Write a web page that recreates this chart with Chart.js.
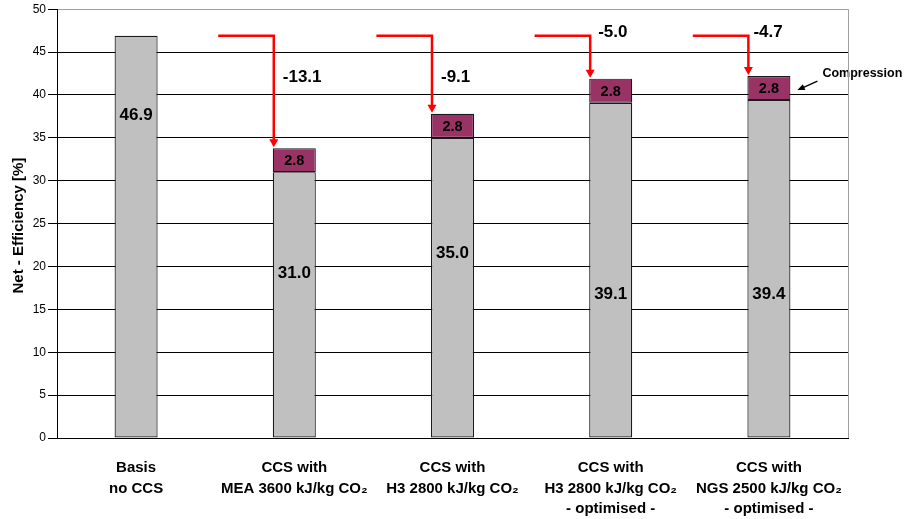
<!DOCTYPE html>
<html>
<head>
<meta charset="utf-8">
<script src="https://cdn.jsdelivr.net/npm/chart.js@4.4.0/dist/chart.umd.min.js"></script>
<style>
html,body{margin:0;padding:0;background:#fff;}
#wrap{width:906px;height:519px;}
</style>
</head>
<body>
<div id="wrap"><canvas id="c" width="906" height="519"></canvas></div>
<script>
const categories = [
  ['Basis', 'no CCS'],
  ['CCS with', 'MEA 3600 kJ/kg CO\u2082'],
  ['CCS with', 'H3 2800 kJ/kg CO\u2082'],
  ['CCS with', 'H3 2800 kJ/kg CO\u2082', '- optimised -'],
  ['CCS with', 'NGS 2500 kJ/kg CO\u2082', '- optimised -']
];
const netEfficiency = [46.9, 31.0, 35.0, 39.1, 39.4];
const compression = [null, 2.8, 2.8, 2.8, 2.8];
const yTickMin = 0, yTickMax = 50, yTickStep = 5;
const axisTitle = 'Net - Efficiency [%]';
const noteText = 'Compression';

const FONT = 'Arial, "Liberation Sans", Helvetica, sans-serif';

const annot = {
  id: 'annot',
  afterDatasetsDraw(chart, args, opts) {
    const ctx = chart.ctx;
    const xs = chart.scales.x, ys = chart.scales.y;
    const baseMeta = chart.getDatasetMeta(0);
    const compMeta = chart.getDatasetMeta(1);
    const catW = xs.width / categories.length;
    ctx.save();
    ctx.fillStyle = '#000';
    ctx.textAlign = 'center';
    ctx.textBaseline = 'middle';
    ctx.font = 'bold 17px ' + FONT;
    netEfficiency.forEach((v, i) => {
      const b = baseMeta.data[i];
      ctx.fillText(v.toFixed(1), b.x, ys.getPixelForValue(opts.baseLabelAt[i]) + 1);
    });
    ctx.font = 'bold 14.5px ' + FONT;
    compression.forEach((v, i) => {
      if (v == null) return;
      const b = compMeta.data[i];
      ctx.fillText(v.toFixed(1), b.x, (b.y + b.base) / 2 + 1);
    });
    const refY = ys.getPixelForValue(netEfficiency[0]);
    for (let i = 1; i < categories.length; i++) {
      const total = netEfficiency[i] + (compression[i] || 0);
      const b = compMeta.data[i];
      const left = b.x - b.width / 2 + 1;
      const topY = ys.getPixelForValue(total);
      const startX = xs.getPixelForValue(i) - catW / 2 + 3;
      ctx.strokeStyle = '#ff0000';
      ctx.fillStyle = '#ff0000';
      ctx.lineWidth = 2.5;
      ctx.lineCap = 'butt';
      ctx.beginPath();
      ctx.moveTo(startX, refY);
      ctx.lineTo(left, refY);
      ctx.lineTo(left, topY - 7);
      ctx.stroke();
      ctx.beginPath();
      ctx.moveTo(left - 4.5, topY - 9);
      ctx.lineTo(left + 4.5, topY - 9);
      ctx.lineTo(left, topY - 1);
      ctx.closePath();
      ctx.fill();
      ctx.fillStyle = '#000';
      ctx.font = 'bold 17px ' + FONT;
      ctx.textAlign = 'left';
      ctx.textBaseline = 'middle';
      const d = (total - netEfficiency[0]).toFixed(1);
      ctx.fillText(d, left + opts.deltaDx[i], ys.getPixelForValue(opts.deltaAt[i]) + 1);
    }
    const last = compMeta.data[categories.length - 1];
    const noteX = last.x + last.width / 2 + 32;
    const noteY = ys.getPixelForValue(42.2) - 3;
    ctx.font = 'bold 12.5px ' + FONT;
    ctx.textAlign = 'left';
    ctx.fillStyle = '#000';
    ctx.fillText(noteText, noteX, noteY);
    const ax0 = noteX - 5, ay0 = noteY + 8;
    const ax1 = last.x + last.width / 2 + 7, ay1 = noteY + 17;
    ctx.strokeStyle = '#000';
    ctx.lineWidth = 1.3;
    const ang = Math.atan2(ay1 - ay0, ax1 - ax0);
    ctx.beginPath();
    ctx.moveTo(ax0, ay0);
    ctx.lineTo(ax1 - 5 * Math.cos(ang), ay1 - 5 * Math.sin(ang));
    ctx.stroke();
    ctx.beginPath();
    ctx.moveTo(ax1, ay1);
    ctx.lineTo(ax1 - 8 * Math.cos(ang - 0.4), ay1 - 8 * Math.sin(ang - 0.4));
    ctx.lineTo(ax1 - 8 * Math.cos(ang + 0.4), ay1 - 8 * Math.sin(ang + 0.4));
    ctx.closePath();
    ctx.fillStyle = '#000';
    ctx.fill();
    const ca = chart.chartArea;
    ctx.strokeStyle = '#a0a0a0';
    ctx.lineWidth = 1;
    ctx.beginPath();
    ctx.moveTo(Math.round(ca.right) + 0.5, ca.top);
    ctx.lineTo(Math.round(ca.right) + 0.5, ca.bottom);
    ctx.stroke();
    ctx.save();
    ctx.translate(19, (ca.top + ca.bottom) / 2 + 2);
    ctx.rotate(-Math.PI / 2);
    ctx.font = 'bold 15px ' + FONT;
    ctx.textAlign = 'center';
    ctx.textBaseline = 'middle';
    ctx.fillStyle = '#000';
    ctx.fillText(axisTitle, 0, 0);
    ctx.restore();
    ctx.restore();
  }
};

new Chart(document.getElementById('c'), {
  type: 'bar',
  data: {
    labels: categories,
    datasets: [
      {
        label: 'Net efficiency',
        data: netEfficiency,
        backgroundColor: '#c0c0c0',
        borderColor: '#1a1a1a',
        borderWidth: 1.2,
        borderSkipped: false,
        categoryPercentage: 1,
        barPercentage: 0.272
      },
      {
        label: 'Compression',
        data: compression,
        backgroundColor: '#993366',
        borderColor: '#1a1a1a',
        borderWidth: 1.2,
        borderSkipped: false,
        categoryPercentage: 1,
        barPercentage: 0.272
      }
    ]
  },
  options: {
    responsive: false,
    animation: false,
    devicePixelRatio: 1,
    layout: { padding: { top: 9, right: 58, left: 0, bottom: 0 } },
    plugins: {
      legend: { display: false },
      tooltip: { enabled: false },
      annot: {
        baseLabelAt: [37.8, 19.3, 21.6, 16.9, 16.9],
        deltaAt: [null, 42.2, 42.2, 47.4, 47.4],
        deltaDx: [0, 9, 9, 8, 5]
      }
    },
    scales: {
      x: {
        stacked: true,
        grid: { display: false, drawTicks: false },
        border: { display: true, color: '#000', width: 1 },
        ticks: {
          color: '#000',
          font: { family: FONT, size: 15, weight: 'bold', lineHeight: 1.35 },
          padding: 20,
          maxRotation: 0,
          autoSkip: false
        },
        afterFit(s) { s.height = 81; }
      },
      y: {
        stacked: true,
        min: yTickMin,
        max: yTickMax,
        ticks: {
          stepSize: yTickStep,
          color: '#000',
          font: { family: FONT, size: 12 },
          padding: 2
        },
        grid: {
          color: (c) => (c.tick && c.tick.value === yTickMax) ? '#a0a0a0' : '#000',
          tickColor: '#000',
          lineWidth: 1,
          tickLength: 9
        },
        border: { display: true, color: '#000', width: 1 },
        afterFit(s) { s.width = 57; }
      }
    }
  },
  plugins: [annot]
});
</script>
</body>
</html>
